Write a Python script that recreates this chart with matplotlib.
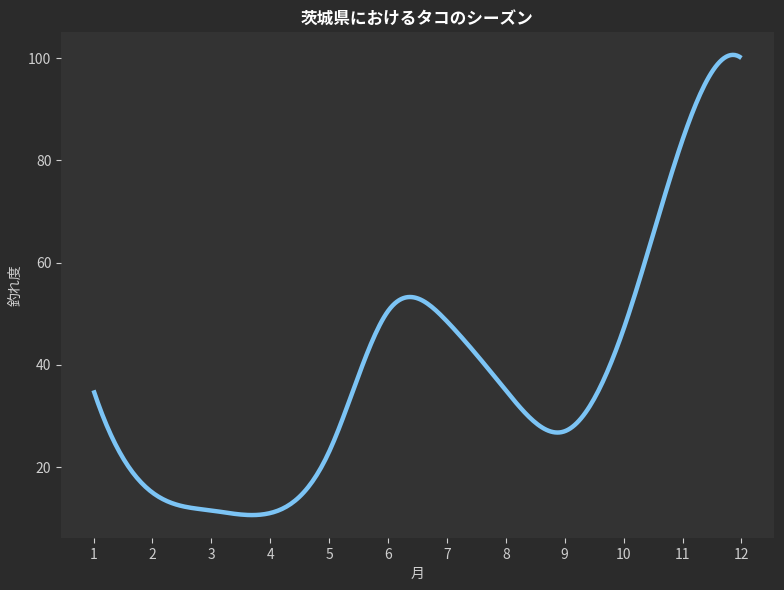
import numpy as np
import matplotlib
matplotlib.use("Agg")
import matplotlib.pyplot as plt

plt.rcParams['font.family'] = ['Noto Sans CJK JP', 'DejaVu Sans']

# data
months = np.arange(1, 13)
catch_score = [35, 15, 11.5, 11, 23, 50.5, 48.5, 35, 27, 47, 84, 100]
title = "茨城県におけるタコのシーズン"
xlabel = "月"
ylabel = "釣れ度"


def notaknot_spline(x, y, num=300):
    # piecewise cubic with not-a-knot ends (like scipy make_interp_spline k=3)
    x = np.asarray(x, float)
    y = np.asarray(y, float)
    n = len(x)
    m = n - 1
    A = np.zeros((4 * m, 4 * m))
    b = np.zeros(4 * m)
    r = 0
    for i in range(m):
        h = x[i + 1] - x[i]
        A[r, 4 * i] = 1
        b[r] = y[i]
        r += 1
        A[r, 4 * i:4 * i + 4] = [1, h, h ** 2, h ** 3]
        b[r] = y[i + 1]
        r += 1
    for i in range(m - 1):
        h = x[i + 1] - x[i]
        A[r, 4 * i:4 * i + 4] = [0, 1, 2 * h, 3 * h ** 2]
        A[r, 4 * (i + 1) + 1] = -1
        r += 1
        A[r, 4 * i:4 * i + 4] = [0, 0, 2, 6 * h]
        A[r, 4 * (i + 1) + 2] = -2
        r += 1
    A[r, 3] = 1
    A[r, 7] = -1
    r += 1
    A[r, 4 * (m - 2) + 3] = 1
    A[r, 4 * (m - 1) + 3] = -1
    coef = np.linalg.solve(A, b).reshape(m, 4)
    xs = np.linspace(x[0], x[-1], num)
    idx = np.clip(np.searchsorted(x, xs, side='right') - 1, 0, m - 1)
    t = xs - x[idx]
    c = coef[idx]
    ys = c[:, 0] + c[:, 1] * t + c[:, 2] * t ** 2 + c[:, 3] * t ** 3
    return xs, ys


xs, ys = notaknot_spline(months, catch_score)

fig = plt.figure(figsize=(7.84, 5.9), dpi=100, facecolor='#2b2b2b')
ax = fig.add_axes([0.078, 0.088, 0.909, 0.858])
ax.set_facecolor('#333333')

ax.plot(xs, ys, color='#7cc4f5', linewidth=3.2, solid_capstyle='butt')

ax.set_xticks(months)
ax.set_yticks([20, 40, 60, 80, 100])
for s in ax.spines.values():
    s.set_visible(False)
ax.tick_params(colors='#cfcfcf', labelsize=10, length=3.5, width=0.8)

ax.set_title(title, color='white', fontsize=12, fontweight='bold', pad=6)
ax.set_xlabel(xlabel, color='#cfcfcf', fontsize=10)
ax.set_ylabel(ylabel, color='#cfcfcf', fontsize=10)

fig.savefig('out.png', dpi=100, facecolor=fig.get_facecolor())
